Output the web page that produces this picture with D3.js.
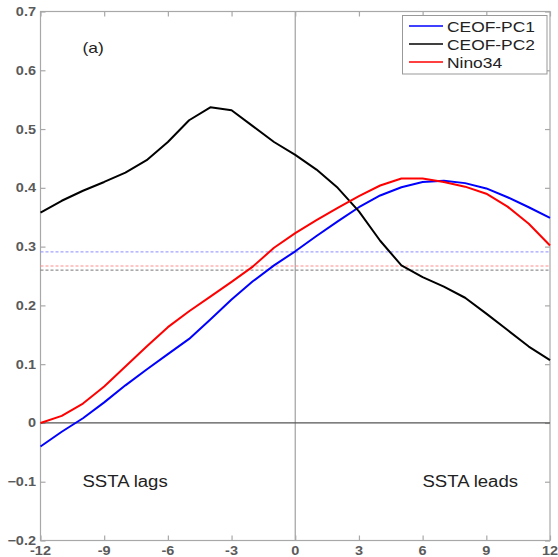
<!DOCTYPE html>
<html>
<head>
<meta charset="utf-8">
<script src="https://cdn.jsdelivr.net/npm/d3@7"></script>
<style>
  html, body { margin: 0; padding: 0; background: #fff; }
  svg { display: block; font-family: "Liberation Sans", Arial, Helvetica, sans-serif; }
</style>
</head>
<body>
<svg id="chart" width="558" height="557"></svg>
<script>
// Lag in months (negative: SSTA lags, positive: SSTA leads)
const lags = d3.range(-12, 13);

// Lagged correlation of each index
const pc1 = [-0.040, -0.015, 0.008, 0.035, 0.064, 0.091, 0.117, 0.143, 0.176, 0.210, 0.241, 0.268, 0.292,
             0.318, 0.343, 0.367, 0.387, 0.401, 0.410, 0.412, 0.408, 0.399, 0.384, 0.367, 0.349];
const pc2 = [0.358, 0.378, 0.395, 0.410, 0.426, 0.447, 0.478, 0.515, 0.537, 0.532, 0.505, 0.478, 0.456,
             0.431, 0.400, 0.360, 0.310, 0.268, 0.248, 0.232, 0.213, 0.186, 0.158, 0.130, 0.107];
const nino34 = [0.000, 0.012, 0.033, 0.062, 0.096, 0.130, 0.163, 0.190, 0.215, 0.240, 0.266, 0.298, 0.323,
                0.345, 0.366, 0.386, 0.404, 0.416, 0.416, 0.410, 0.402, 0.390, 0.368, 0.339, 0.302];

// Significance levels for each index
const significance = [0.291, 0.260, 0.267];

const seriesNames = ["CEOF-PC1", "CEOF-PC2", "Nino34"];
const seriesColors = ["#0000ff", "#000000", "#ff0000"];
const sigColors = ["#8c8cff", "#777777", "#ff8c8c"];
const seriesValues = [pc1, pc2, nino34];

const xTicks = [-12, -9, -6, -3, 0, 3, 6, 9, 12];
const yTicks = [-0.2, -0.1, 0, 0.1, 0.2, 0.3, 0.4, 0.5, 0.6, 0.7];

const svg = d3.select("#chart");
const plotLeft = 40.5, plotRight = 550, plotTop = 11.5, plotBottom = 540.5;

const x = d3.scaleLinear().domain([-12, 12]).range([plotLeft, plotRight]);
const y = d3.scaleLinear().domain([-0.2, 0.7]).range([plotBottom, plotTop]);

const axisColor = "#a8a8a8";
const labelColor = "#5a5a5a";
const sx = 1.16; // horizontal stretch of the lettering

function stretchedText(g, tx, ty, str, size, anchor, color) {
  return g.append("text")
    .attr("transform", `translate(${tx},${ty}) scale(${sx},1)`)
    .attr("text-anchor", anchor)
    .attr("font-size", size)
    .attr("fill", color)
    .text(str);
}

// Frame
svg.append("rect")
  .attr("x", plotLeft).attr("y", plotTop)
  .attr("width", plotRight - plotLeft).attr("height", plotBottom - plotTop)
  .attr("fill", "none").attr("stroke", axisColor).attr("stroke-width", 1.2);

// Axes with inward ticks on all four sides
const tickLen = 5;
const axisL = d3.axisLeft(y).tickValues(yTicks).tickSize(-tickLen).tickFormat("");
const axisR = d3.axisRight(y).tickValues(yTicks).tickSize(-tickLen).tickFormat("");
const axisB = d3.axisBottom(x).tickValues(xTicks).tickSize(-tickLen).tickFormat("");
const axisT = d3.axisTop(x).tickValues(xTicks).tickSize(-tickLen).tickFormat("");

[[axisL, `translate(${plotLeft},0)`], [axisR, `translate(${plotRight},0)`],
 [axisB, `translate(0,${plotBottom})`], [axisT, `translate(0,${plotTop})`]].forEach(([ax, tr]) => {
  const g = svg.append("g").attr("transform", tr).call(ax);
  g.select(".domain").remove();
  g.selectAll(".tick line").attr("stroke", axisColor).attr("stroke-width", 1.2);
});

// Tick labels
const labels = svg.append("g");
yTicks.forEach(v => {
  stretchedText(labels, plotLeft - 4.5, y(v) + 4.5, v === 0 ? "0" : d3.format(".1f")(v), 12.5, "end", labelColor)
    .attr("font-weight", "bold");
});
xTicks.forEach(v => {
  stretchedText(labels, x(v), plotBottom + 14.5, String(v), 12.5, "middle", labelColor)
    .attr("font-weight", "bold");
});

// Zero reference lines
svg.append("line")
  .attr("x1", x(0)).attr("x2", x(0)).attr("y1", plotTop).attr("y2", plotBottom)
  .attr("stroke", axisColor).attr("stroke-width", 1.3);
svg.append("line")
  .attr("x1", plotLeft).attr("x2", plotRight).attr("y1", y(0)).attr("y2", y(0))
  .attr("stroke", "#555").attr("stroke-width", 1.3);

// Significance levels
significance.forEach((s, i) => {
  svg.append("line")
    .attr("x1", plotLeft).attr("x2", plotRight).attr("y1", y(s)).attr("y2", y(s))
    .attr("stroke", sigColors[i]).attr("stroke-width", 1)
    .attr("stroke-dasharray", "3,2");
});

// Correlation curves
const line = d3.line().x((d, i) => x(lags[i])).y(d => y(d));
seriesValues.forEach((vals, i) => {
  svg.append("path")
    .datum(vals)
    .attr("d", line)
    .attr("fill", "none")
    .attr("stroke", seriesColors[i])
    .attr("stroke-width", 2)
    .attr("stroke-linejoin", "round");
});

// Annotations
stretchedText(svg, 82.5, 52.5, "(a)", 15, "start", "#222");
stretchedText(svg, 82.5, 487, "SSTA lags", 16, "start", "#222");
stretchedText(svg, 422.5, 487, "SSTA leads", 16, "start", "#222");

// Legend
const legend = svg.append("g");
legend.append("rect")
  .attr("x", 402.5).attr("y", 15.5).attr("width", 144.5).attr("height", 58.5)
  .attr("fill", "#fff").attr("stroke", "#999").attr("stroke-width", 1);
seriesNames.forEach((name, i) => {
  const ry = 26 + i * 18;
  legend.append("line")
    .attr("x1", 409).attr("x2", 443).attr("y1", ry).attr("y2", ry)
    .attr("stroke", seriesColors[i]).attr("stroke-width", 1.5);
  stretchedText(legend, 447, ry + 5.5, name, 15, "start", "#222");
});
</script>
</body>
</html>
